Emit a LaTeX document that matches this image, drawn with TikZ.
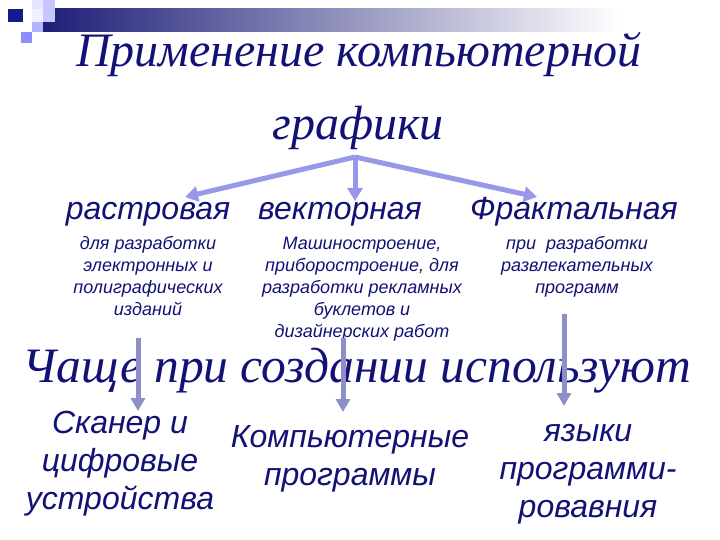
\documentclass[tikz,border=0pt]{standalone}
\usepackage{fontspec}
\setmainfont{Liberation Serif}
\setsansfont{Liberation Sans}
\usepackage{xcolor}
\usetikzlibrary{arrows.meta,positioning}

\definecolor{titleblue}{RGB}{18,18,118}
\definecolor{barnavy}{RGB}{30,30,120}
\definecolor{lavtop}{RGB}{152,152,232}
\definecolor{lavdown}{RGB}{142,142,200}

\begin{document}
\begin{tikzpicture}[
    % GLOBAL CFG
    x=1pt, y=-1pt,
    % Styles
    titletext/.style={% For the big script lines
        font=\rmfamily\itshape\fontsize{48}{56}\selectfont,
        text=titleblue,
        inner sep=0pt,
        anchor=base,
        },
    kind/.style={% For the three kinds of graphics
        font=\sffamily\itshape\fontsize{32}{38}\selectfont,
        text=titleblue,
        inner sep=0pt,
        anchor=base,
        },
    usage/.style={% Small notes under each kind (base = last line)
        font=\sffamily\itshape\fontsize{18}{22}\selectfont,
        text=titleblue,
        align=center,
        inner sep=0pt,
        anchor=base,
        },
    tool/.style={% What is used at the bottom (base = last line)
        font=\sffamily\itshape\fontsize{32}{38}\selectfont,
        text=titleblue,
        align=center,
        inner sep=0pt,
        anchor=base,
        },
    ArrowT/.style={% Arrows from the title
        draw=lavtop,
        line width=5pt,
        -{Triangle[width=15pt,length=13pt]},
        },
    ArrowD/.style={% Arrows going down
        draw=lavdown,
        line width=5pt,
        -{Triangle[width=14pt,length=13pt]},
        },
    ]

    \useasboundingbox (0,0) rectangle (720,540);

% Decoration in the corner
    \fill[white] (0,0) rectangle (720,540);
    \shade[left color=barnavy, right color=white] (43,9) rectangle (620,32);
    \fill[blue!10!white] (32,0) rectangle (55,9);
    \fill[blue!22!white] (43,0) rectangle (55,22);
    \fill[blue!6!white] (32,9) rectangle (43,22);
    \fill[blue!30!white] (32,22) rectangle (43,32);
    \fill[blue!45!white] (21,32) rectangle (32,43);
    \fill[barnavy!85!blue] (8,9) rectangle (23,22);

% Title
    \node[titletext] (title) at (359,67) {Применение компьютерной};
    \node[titletext] (title2) at (358,140) {графики};

% Kinds
    \node[kind] (raster) at (148,219) {растровая};
    \node[kind] (vector) at (340,219) {векторная};
    \node[kind] (fractal) at (574,219) {Фрактальная};

    \node[usage] (useR) at (148,315) {для разработки\\электронных и\\полиграфических\\изданий};
    \node[usage] (useV) at (362,337) {Машиностроение,\\приборостроение, для\\разработки рекламных\\буклетов и\\дизайнерских работ};
    \node[usage] (useF) at (577,293) {при\ \ разработки\\развлекательных\\программ};

% Second heading
    \node[titletext, font=\rmfamily\itshape\fontsize{49.5}{56}\selectfont] (often) at (357,382) {Чаще при создании используют};

% Tools
    \node[tool] (scan) at (120,509) {Сканер и\\цифровые\\устройства};
    \node[tool] (progs) at (350,485) {Компьютерные\\программы};
    \node[tool] (langs) at (588,517) {языки\\программи-\\ровавния};

% Arrows
    \coordinate (apex) at (355,157);
    \coordinate (tipR) at (185,197);
    \coordinate (tipV) at (355,201);
    \coordinate (tipF) at (537,197);
    \draw[ArrowT] (apex) -- (tipR);
    \draw[ArrowT] (apex) -- (tipV);
    \draw[ArrowT] (apex) -- (tipF);

    \coordinate (fromR) at (138,338);
    \coordinate (toR) at (138,411);
    \coordinate (fromV) at (343,338);
    \coordinate (toV) at (343,412);
    \coordinate (fromF) at (564,314);
    \coordinate (toF) at (564,406);
    \draw[ArrowD] (fromR) -- (toR);
    \draw[ArrowD] (fromV) -- (toV);
    \draw[ArrowD] (fromF) -- (toF);

\end{tikzpicture}
\end{document}
